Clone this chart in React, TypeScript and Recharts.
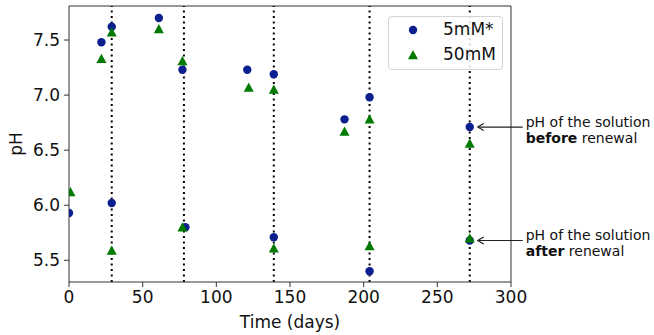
import React from 'react';
import {
  ScatterChart,
  Scatter,
  XAxis,
  YAxis,
  ReferenceLine,
  ReferenceDot,
  Legend,
} from 'recharts';

const seriesNames = ['5mM*', '50mM'];
const seriesColors = ['#0b1f8e', '#007a00'];

const days5 = [0, 22, 29, 29, 61, 77, 79, 121, 139, 139, 187, 204, 204, 272, 272];
const ph5 = [5.93, 7.48, 7.62, 6.02, 7.7, 7.23, 5.8, 7.23, 7.19, 5.71, 6.78, 6.98, 5.4, 6.71, 5.68];

const days50 = [1, 22, 29, 29, 61, 77, 77, 122, 139, 139, 187, 204, 204, 272, 272];
const ph50 = [6.12, 7.33, 7.57, 5.59, 7.6, 7.31, 5.8, 7.07, 7.05, 5.61, 6.67, 6.78, 5.63, 6.56, 5.7];

const renewalDays = [29, 78, 139, 204, 272];

const xTicks = [0, 50, 100, 150, 200, 250, 300];
const yTicks = [5.5, 6.0, 6.5, 7.0, 7.5];
const xDomain = [0, 300];
const yDomain = [5.303, 7.809];

const data5 = days5.map((d, i) => ({ day: d, ph: ph5[i] }));
const data50 = days50.map((d, i) => ({ day: d, ph: ph50[i] }));

const FONT = '"DejaVu Sans", sans-serif';

const CircleShape = (props: any) => (
  <circle cx={props.cx} cy={props.cy} r={4.2} fill={seriesColors[0]} />
);

const TriangleShape = (props: any) => {
  const { cx, cy } = props;
  const r = 5;
  return (
    <path
      d={`M${cx},${cy - r} L${cx - r},${cy + r * 0.85} L${cx + r},${cy + r * 0.85} Z`}
      fill={seriesColors[1]}
    />
  );
};

const makeAnnotation = (boldWord: string) => (props: any) => {
  const { cx, cy } = props;
  const tip = cx + 8;
  const end = cx + 53;
  return (
    <g>
      <line x1={tip + 1} y1={cy} x2={end} y2={cy} stroke="#222" strokeWidth={1.2} />
      <path
        d={`M${tip + 6},${cy - 3.5} L${tip},${cy} L${tip + 6},${cy + 3.5}`}
        fill="none"
        stroke="#222"
        strokeWidth={1.2}
      />
      <text x={end + 3} y={cy} fontFamily={FONT} fontSize={14} fill="#111">
        pH of the solution
      </text>
      <text x={end + 3} y={cy + 16} fontFamily={FONT} fontSize={14} fill="#111">
        <tspan fontWeight="bold">{boldWord}</tspan>
        <tspan> renewal</tspan>
      </text>
    </g>
  );
};

const LegendContent = () => (
  <div
    style={{
      width: 113,
      height: 52,
      border: '1px solid #d4d4d4',
      borderRadius: 4,
      background: 'rgba(255,255,255,0.85)',
      position: 'relative',
      fontFamily: FONT,
      fontSize: 17,
      color: '#111',
    }}
  >
    {seriesNames.map((name, i) => (
      <div
        key={name}
        style={{ position: 'absolute', left: 0, top: 1 + i * 25, height: 25, width: 113 }}
      >
        <svg width={20} height={20} style={{ position: 'absolute', left: 14, top: 2 }}>
          {i === 0 ? (
            <circle cx={10} cy={10} r={4.2} fill={seriesColors[0]} />
          ) : (
            <path d="M10,5 L5,14.25 L15,14.25 Z" fill={seriesColors[1]} />
          )}
        </svg>
        <span style={{ position: 'absolute', left: 54, top: 1, lineHeight: '20px' }}>{name}</span>
      </div>
    ))}
  </div>
);

export default function App() {
  return (
    <div style={{ position: 'absolute', left: 0, top: 0, width: 654, height: 335, background: '#fff' }}>
      <ScatterChart
        width={654}
        height={335}
        margin={{ top: 6, right: 143, bottom: 0, left: 0 }}
      >
        <XAxis
          type="number"
          dataKey="day"
          domain={xDomain}
          ticks={xTicks}
          allowDataOverflow
          height={53}
          tickSize={5}
          tickMargin={4}
          stroke="#333"
          tick={{ fill: '#111', fontSize: 17, fontFamily: FONT }}
          label={{
            value: 'Time (days)',
            position: 'insideBottom',
            offset: 7,
            fill: '#111',
            fontSize: 17,
            fontFamily: FONT,
          }}
        />
        <YAxis
          type="number"
          dataKey="ph"
          domain={yDomain}
          ticks={yTicks}
          allowDataOverflow
          width={69}
          tickSize={5}
          tickMargin={4}
          stroke="#333"
          tickFormatter={(v: number) => v.toFixed(1)}
          tick={{ fill: '#111', fontSize: 17, fontFamily: FONT }}
          label={(p: any) => {
            const vb = p.viewBox || { x: 0, y: 6, width: 69, height: 276 };
            const x = vb.x + 22;
            const y = vb.y + vb.height / 2;
            return (
              <text
                x={x}
                y={y}
                textAnchor="middle"
                transform={`rotate(-90, ${x}, ${y})`}
                fontFamily={FONT}
                fontSize={17}
                fill="#111"
              >
                pH
              </text>
            );
          }}
        />
        <ReferenceLine y={yDomain[1]} stroke="#333" strokeWidth={1} />
        <ReferenceLine x={xDomain[1]} stroke="#333" strokeWidth={1} />
        <Scatter
          name={seriesNames[0]}
          data={data5}
          shape={CircleShape}
          isAnimationActive={false}
        />
        <Scatter
          name={seriesNames[1]}
          data={data50}
          shape={TriangleShape}
          isAnimationActive={false}
        />
        {renewalDays.map((d) => (
          <ReferenceLine
            key={d}
            x={d}
            stroke="#000"
            strokeWidth={2}
            strokeDasharray="2 3.5"
          />
        ))}
        <ReferenceDot
          x={days5[13]}
          y={ph5[13]}
          r={0}
          shape={makeAnnotation('before')}
        />
        <ReferenceDot
          x={days5[14]}
          y={ph5[14]}
          r={0}
          shape={makeAnnotation('after')}
        />
        <Legend
          layout="horizontal"
          verticalAlign="middle"
          align="center"
          content={LegendContent}
          wrapperStyle={{ left: 388, top: 16, width: 115, height: 54 }}
        />
      </ScatterChart>
    </div>
  );
}
